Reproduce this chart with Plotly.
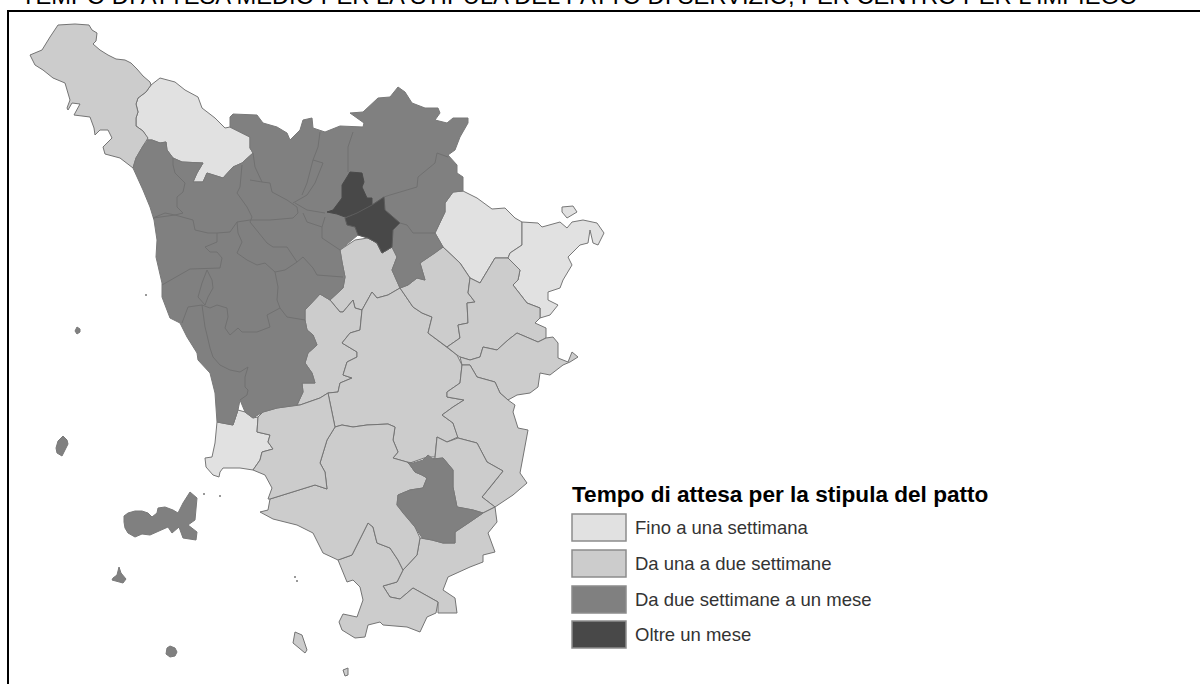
import plotly.graph_objects as go

TITLE = "TEMPO DI ATTESA MEDIO PER LA STIPULA DEL PATTO DI SERVIZIO, PER CENTRO PER L'IMPIEGO"
LEGEND_TITLE = "Tempo di attesa per la stipula del patto"
CLASSES = ["Fino a una settimana", "Da una a due settimane", "Da due settimane a un mese", "Oltre un mese"]
COLORS = ["#e1e1e1", "#cccccc", "#808080", "#484848"]

# ---- map geometry (projected map units) ----
LUNIGIANA = [(58,25),(75,24),(89,25),(92,30),(97,33),(96,41),(93,44),(100,50),(108,55),(116,59),(125,60),(131,63),(137,69),(143,76),(150,82),(151,85),(146,92),(138,98),(136,104),(138,112),(136,118),(136,126),(143,131),(148,138),(143,146),(136,158),(133,168),(120,158),(105,154),(103,147),(112,138),(108,130),(100,130),(95,135),(94,128),(90,117),(74,115),(80,104),(72,103),(68,110),(67,108),(70,100),(65,83),(53,78),(43,70),(35,65),(30,55),(42,50),(50,37)]
GARFAGNANA = [(151,85),(160,78),(175,82),(185,90),(198,97),(202,108),(215,118),(225,128),(230,127),(250,137),(250,148),(253,153),(242,163),(233,167),(223,178),(207,173),(203,182),(193,182),(197,173),(203,163),(182,162),(173,158),(167,150),(166,142),(160,143),(152,140),(148,140),(143,131),(136,126),(136,118),(138,112),(136,104),(138,98),(146,92)]
CASENTINO = [(453,192),(463,191),(477,198),(492,209),(505,208),(515,218),(522,222),(522,245),(510,253),(508,258),(495,258),(480,283),(470,278),(460,263),(443,247),(435,233),(445,212),(445,203)]
VALTIBERINA = [(522,222),(538,223),(542,227),(560,222),(567,228),(572,222),(583,220),(597,223),(604,233),(598,245),(593,243),(590,230),(588,243),(580,245),(568,257),(572,265),(563,280),(560,288),(548,292),(548,300),(558,305),(550,315),(540,318),(540,308),(527,303),(513,285),(518,280),(520,270),(508,258),(510,253),(522,245)]
VERNA_ISLET = [(562,207),(573,206),(577,212),(567,218),(562,212)]
PIOMBINO = [(217,422),(233,425),(238,410),(245,412),(253,418),(258,417),(257,432),(270,435),(268,442),(273,449),(262,452),(260,460),(253,470),(240,468),(223,468),(220,472),(219,477),(213,475),(206,467),(205,458),(212,457),(215,443)]
EMPOLESE = [(340,250),(355,240),(368,238),(377,243),(382,253),(392,247),(397,257),(392,270),(400,288),(388,295),(377,298),(372,292),(362,310),(355,308),(353,300),(343,312),(340,312),(330,300),(343,288),(345,277),(342,262)]
VALDELSA = [(320,294),(330,300),(340,312),(343,312),(353,300),(355,308),(362,310),(360,330),(350,333),(342,343),(357,352),(357,357),(347,362),(343,375),(352,378),(340,383),(338,392),(328,393),(320,398),(300,405),(297,405),(303,392),(302,383),(315,383),(312,373),(305,363),(308,353),(317,345),(313,335),(307,330),(305,320),(305,310)]
SIENA = [(362,310),(372,292),(377,298),(388,295),(400,288),(413,307),(422,313),(432,317),(428,333),(447,347),(457,355),(462,365),(460,383),(447,392),(447,397),(464,400),(453,407),(442,415),(453,423),(458,437),(447,442),(437,437),(435,457),(427,457),(410,463),(393,458),(398,452),(393,440),(395,427),(388,424),(367,425),(353,427),(342,425),(335,427),(328,393),(338,392),(340,383),(352,378),(343,375),(347,362),(357,357),(357,352),(342,343),(350,333),(360,330)]
VALDARNO = [(400,288),(408,285),(417,278),(425,280),(420,263),(435,253),(443,247),(460,263),(470,278),(468,293),(475,302),(467,303),(468,323),(458,325),(460,338),(447,347),(428,333),(432,317),(422,313),(413,307)]
AREZZO = [(480,283),(495,258),(508,258),(520,270),(518,280),(513,285),(527,303),(540,308),(540,318),(535,323),(546,328),(546,338),(538,342),(517,333),(508,340),(497,350),(483,347),(480,357),(470,360),(460,357),(457,355),(447,347),(460,338),(458,325),(468,323),(467,303),(475,302),(468,293),(470,278)]
CORTONA = [(462,365),(470,365),(477,377),(495,382),(500,393),(508,400),(517,395),(530,393),(538,387),(540,373),(550,375),(563,365),(570,362),(578,357),(572,352),(568,362),(558,358),(558,343),(553,337),(546,338),(538,342),(517,333),(508,340),(497,350),(483,347),(480,357),(470,360),(460,357)]
VALDICHIANA = [(462,365),(470,365),(477,377),(495,382),(500,393),(508,400),(515,405),(513,412),(518,428),(528,430),(523,457),(520,473),(527,483),(513,495),(495,507),(482,497),(492,485),(503,471),(487,462),(477,443),(458,438),(453,423),(442,415),(453,407),(464,400),(447,397),(447,392),(460,383)]
CHIUSI = [(435,458),(437,437),(447,442),(458,438),(477,443),(487,462),(503,471),(492,485),(482,497),(495,507),(483,513),(473,510),(457,507),(453,487),(453,470),(443,458),(433,459)]
PITIGLIANO = [(483,513),(495,507),(497,522),(488,533),(495,552),(483,555),(483,562),(470,567),(448,577),(443,590),(455,598),(457,613),(438,613),(438,602),(413,588),(400,599),(390,597),(383,586),(397,582),(403,570),(417,555),(420,538),(432,540),(443,543),(455,543),(455,532),(470,522)]
ORBETELLO = [(338,560),(352,555),(368,523),(373,527),(377,543),(390,548),(398,560),(403,570),(397,582),(383,586),(390,597),(400,599),(413,588),(438,602),(436,613),(427,617),(420,632),(407,627),(383,625),(380,622),(368,625),(365,637),(355,638),(342,630),(339,622),(343,614),(357,617),(363,600),(360,587),(353,580),(347,582),(342,570)]
GROSSETO = [(335,427),(327,440),(320,463),(325,472),(327,489),(315,485),(270,499),(268,510),(260,512),(273,519),(297,525),(313,533),(323,553),(338,560),(352,555),(368,523),(373,527),(377,543),(390,548),(398,560),(403,570),(417,555),(420,538),(415,527),(403,513),(397,505),(398,495),(410,490),(423,488),(427,478),(422,475),(415,472),(410,465),(407,462),(393,458),(398,452),(393,440),(395,427),(388,424),(367,425),(353,427),(342,425)]
FOLLONICA = [(258,417),(257,432),(270,435),(268,442),(273,449),(262,452),(260,460),(253,470),(265,475),(272,488),(268,499),(270,499),(315,485),(327,489),(325,472),(320,463),(327,440),(335,427),(328,393),(320,398),(300,405),(277,408),(263,412)]
GIGLIO = [(295,632),(302,635),(307,650),(305,653),(293,643)]
GIANNUTRI = [(343,670),(348,668),(348,675),(345,676)]

CENTRAL_NORTH = [(133,168),(136,158),(143,146),(148,140),(152,140),(160,143),(166,142),(167,150),(173,158),(182,162),(203,163),(197,173),(193,182),(203,182),(207,173),(223,178),(233,167),(242,163),(253,153),(250,148),(250,137),(230,127),(230,117),(233,114),(257,115),(263,123),(277,127),(287,133),(290,140),(300,130),(303,120),(312,118),(313,128),(325,132),(340,126),(363,127),(364,123),(350,113),(363,112),(378,98),(390,97),(398,87),(405,92),(412,103),(425,108),(438,108),(440,113),(435,120),(447,123),(453,118),(468,118),(468,123),(460,137),(455,150),(448,155),(457,165),(457,173),(463,177),(463,191),(453,192),(445,203),(445,212),(435,233),(443,247),(435,253),(420,263),(425,280),(417,278),(408,285),(400,288),(392,270),(397,257),(392,247),(382,253),(377,243),(368,238),(358,235),(340,250),(342,262),(345,277),(343,288),(330,300),(320,294),(305,310),(305,320),(307,330),(313,335),(317,345),(308,353),(305,363),(312,373),(315,383),(302,383),(303,392),(297,405),(277,408),(263,412),(253,418),(245,412),(240,400),(238,410),(233,425),(217,422),(215,393),(210,373),(198,360),(197,353),(187,337),(180,323),(170,318),(162,297),(162,283),(156,257),(157,240),(154,220),(150,207),(143,190)]
ELBA = [(124,522),(124,516),(128,513),(135,511),(142,511),(148,513),(152,517),(157,513),(158,508),(165,507),(173,510),(178,513),(183,503),(190,492),(197,498),(196,510),(195,520),(188,525),(197,532),(196,540),(183,538),(179,527),(172,533),(168,527),(155,533),(150,535),(142,534),(135,537),(128,533),(125,528)]
CAPRAIA = [(63,436),(67,440),(68,444),(65,450),(62,456),(57,453),(56,448),(58,441)]
GORGONA = [(77,327),(80,329),(80,332),(77,334),(75,331)]
PIANOSA = [(119,567),(121,573),(126,579),(123,583),(112,580),(113,578),(117,575)]
MONTECRISTO = [(170,646),(175,648),(177,652),(175,656),(170,657),(166,654),(167,648)]

DARK_NORTH = [(327,212),(333,210),(342,198),(342,185),(347,177),(350,172),(362,173),(364,182),(362,187),(367,198),(372,198),(372,205),(357,213),(345,217),(337,214)]
DARK_SOUTH = [(345,218),(357,213),(372,205),(384,197),(385,210),(400,223),(393,230),(392,247),(382,253),(377,243),(368,238),(358,235),(355,227),(347,225)]

# internal district borders inside the darker class
BORDERS = [
 [(173,158),(173,165),(175,173),(185,183),(183,192),(177,197),(177,207),(183,213),(175,215),(165,213),(153,218)],
 [(242,165),(240,187),(237,193),(247,207),(252,217),(250,222)],
 [(253,153),(255,167),(262,182),(270,183),(272,192),(287,200),(297,207),(298,213)],
 [(250,180),(262,182)],
 [(320,132),(318,147),(313,160),(323,163),(315,183),(307,195),(293,203)],
 [(313,160),(307,183),(302,195)],
 [(353,132),(348,147),(348,172)],
 [(295,203),(307,210),(325,213)],
 [(303,213),(307,222),(322,227),(325,217)],
 [(322,227),(322,238),(340,250)],
 [(193,220),(195,230),(208,233),(217,233),(230,232),(237,222)],
 [(237,222),(238,233),(242,242),(237,253),(247,260),(257,265),(265,263),(275,272),(285,270),(297,262),(287,247),(273,247),(267,243),(250,222)],
 [(153,218),(175,215),(193,220)],
 [(237,222),(250,220),(270,220),(293,218),(298,213)],
 [(297,262),(303,257),(313,268),(317,275),(343,277)],
 [(275,272),(278,287),(277,300),(280,308),(287,317),(305,320)],
 [(280,308),(267,315),(270,327),(257,332),(242,332),(238,328),(230,335),(225,328),(228,317),(227,308),(217,305),(210,308),(202,305)],
 [(162,285),(190,269),(220,268),(222,258),(217,252),(210,252),(205,247),(217,242),(217,233)],
 [(207,270),(212,280),(213,288),(208,297),(205,305),(198,297),(202,283),(207,270)],
 [(202,305),(188,307),(182,323)],
 [(202,305),(205,327),(207,335),(210,348),(213,357),(220,365),(230,370),(240,372),(248,367),(245,377),(245,387),(248,390),(247,395),(240,400)],
 [(384,197),(390,195),(417,187),(418,177),(435,163),(437,153),(448,157)],
 [(400,223),(407,225),(413,233),(435,233)],
 [(372,205),(384,197)],
]
DOTS = [(146,295),(220,496),(204,494),(295,577),(297,581)]

GROUPS = [
    (0, [GARFAGNANA, CASENTINO, VALTIBERINA, VERNA_ISLET, PIOMBINO]),
    (1, [LUNIGIANA, EMPOLESE, VALDELSA, SIENA, VALDARNO, AREZZO, CORTONA, VALDICHIANA, CHIUSI, PITIGLIANO, ORBETELLO, GROSSETO, FOLLONICA, GIGLIO, GIANNUTRI]),
    (2, [CENTRAL_NORTH, ELBA, CAPRAIA, GORGONA, PIANOSA, MONTECRISTO]),
]
AMIATA = [(407,462),(413,463),(423,460),(428,455),(433,459),(443,458),(453,470),(453,487),(457,507),(473,510),(483,513),(470,522),(455,532),(455,543),(443,543),(432,540),(422,538),(415,527),(403,513),(397,505),(398,495),(410,490),(423,488),(427,478),(422,475),(415,472),(410,465)]
OUTLINES = {0: "#777777", 1: "#747474", 2: "#797979"}

fig = go.Figure()

def add_poly(pts, fill, line, width=1):
    xs = [p[0] for p in pts] + [pts[0][0]]
    ys = [p[1] for p in pts] + [pts[0][1]]
    fig.add_trace(go.Scatter(x=xs, y=ys, mode="lines", fill="toself", fillcolor=fill,
                             line=dict(color=line, width=width), hoverinfo="skip", showlegend=False))

for cls, polys in GROUPS:
    for p in polys:
        add_poly(p, COLORS[cls], OUTLINES[cls])
add_poly(AMIATA, COLORS[2], OUTLINES[2])
for b in BORDERS:
    fig.add_trace(go.Scatter(x=[p[0] for p in b], y=[p[1] for p in b], mode="lines",
                             line=dict(color="#707070", width=1), hoverinfo="skip", showlegend=False))
add_poly(DARK_NORTH, COLORS[3], "#4a4a4a")
add_poly(DARK_SOUTH, COLORS[3], "#5c5c5c")
fig.add_trace(go.Scatter(x=[p[0] for p in DOTS], y=[p[1] for p in DOTS], mode="markers",
                         marker=dict(size=2, color="#777777"), hoverinfo="skip", showlegend=False))

shapes = [
    dict(type="line", x0=8, x1=8, y0=11, y1=684, line=dict(color="black", width=2)),
    dict(type="line", x0=7, x1=1200, y0=11, y1=11, line=dict(color="black", width=2)),
]
SWATCH_TOPS = [514, 550, 586, 621]
annotations = [
    dict(x=19, y=11, text=TITLE, showarrow=False, xanchor="left", yanchor="bottom",
         font=dict(family="Liberation Sans", size=23.7, color="black")),
    dict(x=570, y=494, text="<b>"+LEGEND_TITLE+"</b>", showarrow=False, xanchor="left", yanchor="middle",
         font=dict(family="Liberation Sans", size=22.6, color="black")),
]
for top, name, col in zip(SWATCH_TOPS, CLASSES, COLORS):
    shapes.append(dict(type="rect", x0=572, x1=626, y0=top, y1=top+27, fillcolor=col,
                       line=dict(color="#8c8c8c", width=1.5)))
    annotations.append(dict(x=633, y=top+13.5, text=name, showarrow=False, xanchor="left", yanchor="middle",
                            font=dict(family="Liberation Sans", size=18.5, color="#333333")))

fig.update_layout(width=1200, height=684, margin=dict(l=0, r=0, t=0, b=0),
                  paper_bgcolor="white", plot_bgcolor="white", showlegend=False,
                  shapes=shapes, annotations=annotations,
                  xaxis=dict(range=[0, 1200], visible=False, fixedrange=True),
                  yaxis=dict(range=[684, 0], visible=False, fixedrange=True))
fig.write_html("out.html", config=dict(displayModeBar=False),
               post_script="document.body.style.margin='0';document.documentElement.style.overflow='hidden';")
